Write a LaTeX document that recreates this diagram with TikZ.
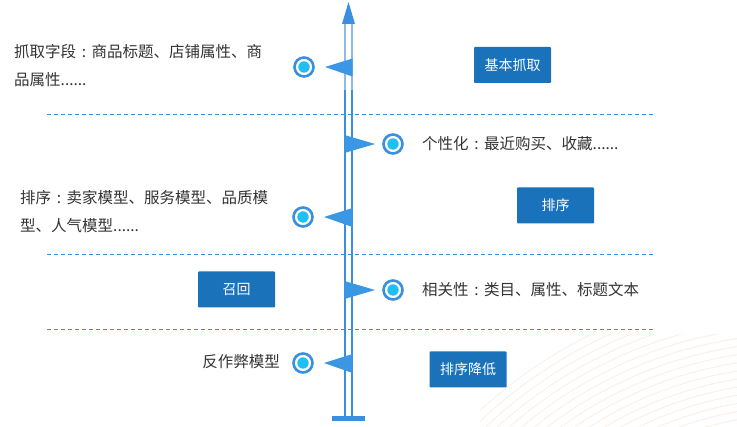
\documentclass[tikz,border=0pt]{standalone}
\usepackage{fontspec}
\setmainfont{Noto Sans CJK SC}
\usetikzlibrary{calc}
\definecolor{axisblue}{HTML}{3A8FDF}
\definecolor{axislight}{HTML}{8DBBE6}
\definecolor{triblue}{HTML}{3B97E3}
\definecolor{boxblue}{HTML}{1A72BB}
\definecolor{dotcyan}{HTML}{21BFF0}
\definecolor{txtgray}{HTML}{333333}
\definecolor{arcpink}{HTML}{FDEDE6}
\newcommand{\cnc}{\makebox[1em][c]{:}}
\begin{document}
\begin{tikzpicture}[x=1pt,y=-1pt,
  dot/.style={circle,draw=axisblue,fill=white,line width=2.6pt,minimum size=19pt,inner sep=0pt,
    path picture={\fill[dotcyan] (path picture bounding box.center) circle (5.7pt);}},
  tagbox/.style={rectangle,fill=boxblue,text=white,minimum width=77pt,minimum height=36pt,inner sep=0pt,
    font=\fontsize{14}{16}\selectfont,rounded corners=0.8pt},
  desc/.style={text=txtgray,font=\fontsize{15.5}{28}\selectfont,inner sep=0pt,align=left},
  sep/.style={draw=axisblue,dashed,dash pattern=on 4pt off 3pt,line width=0.8pt},
  tri/.style={fill=triblue}]
\useasboundingbox (0,0) rectangle (737,427);
% faint background arcs
\begin{scope}
\clip (480,335) rectangle (737,427);
\foreach \r in {330,338,...,480}
  \draw[arcpink,line width=0.9pt] (800,760) circle (\r);
\end{scope}
% dashed separators
\coordinate (s1a) at (47,114); \coordinate (s1b) at (654,114);
\coordinate (s2a) at (47,254); \coordinate (s2b) at (654,254);
\coordinate (s3a) at (47,329); \coordinate (s3b) at (654,329);
\draw[sep] (s1a) -- (s1b);
\draw[sep] (s2a) -- (s2b);
\draw[sep] (s3a) -- (s3b);
% axis
\coordinate (top) at (348.5,2);
\coordinate (lt) at (345,23); \coordinate (rt) at (352,23);
\coordinate (lm) at (345,90); \coordinate (rm) at (352,90);
\coordinate (lb) at (345,417); \coordinate (rb) at (352,417);
\draw[axislight,line width=1.1pt] (lt) -- (lm) (rt) -- (rm);
\draw[axisblue,line width=1.1pt] (lm) -- (lb) (rm) -- (rb);
\fill[axisblue] (top) -- (355,24) -- (342,24) -- cycle;
\fill[axisblue] (332,416.5) rectangle (365,421.5);
% triangles
\fill[tri] (325,67) -- (352.5,58.5) -- (352.5,76.5) -- cycle;
\fill[tri] (375,144) -- (344.5,135) -- (344.5,153) -- cycle;
\fill[tri] (324,217) -- (352.5,208) -- (352.5,227) -- cycle;
\fill[tri] (375,290) -- (344.5,281) -- (344.5,299) -- cycle;
\fill[tri] (324,363) -- (352.5,354) -- (352.5,373) -- cycle;
% dots
\node[dot] (d1) at (304,67) {};
\node[dot] (d2) at (393,144) {};
\node[dot] (d3) at (303,217) {};
\node[dot] (d4) at (393,290) {};
\node[dot] (d5) at (303,363) {};
% descriptions
\node[desc,anchor=west] (t1) at (14,66) {抓取字段\cnc 商品标题、店铺属性、商\\品属性......};
\node[desc,anchor=west] (t2) at (422,144) {个性化\cnc 最近购买、收藏......};
\node[desc,anchor=west] (t3) at (20,211.5) {排序\cnc 卖家模型、服务模型、品质模\\型、人气模型......};
\node[desc,anchor=west] (t4) at (422,290) {相关性\cnc 类目、属性、标题文本};
\node[desc,anchor=east] (t5) at (280,362) {反作弊模型};
% boxes
\node[tagbox] (b1) at (512.5,65) {基本抓取};
\node[tagbox] (b2) at (555.5,205.5) {排序};
\node[tagbox] (b3) at (236.5,289.5) {召回};
\node[tagbox] (b4) at (468,369.5) {排序降低};
\end{tikzpicture}
\end{document}
